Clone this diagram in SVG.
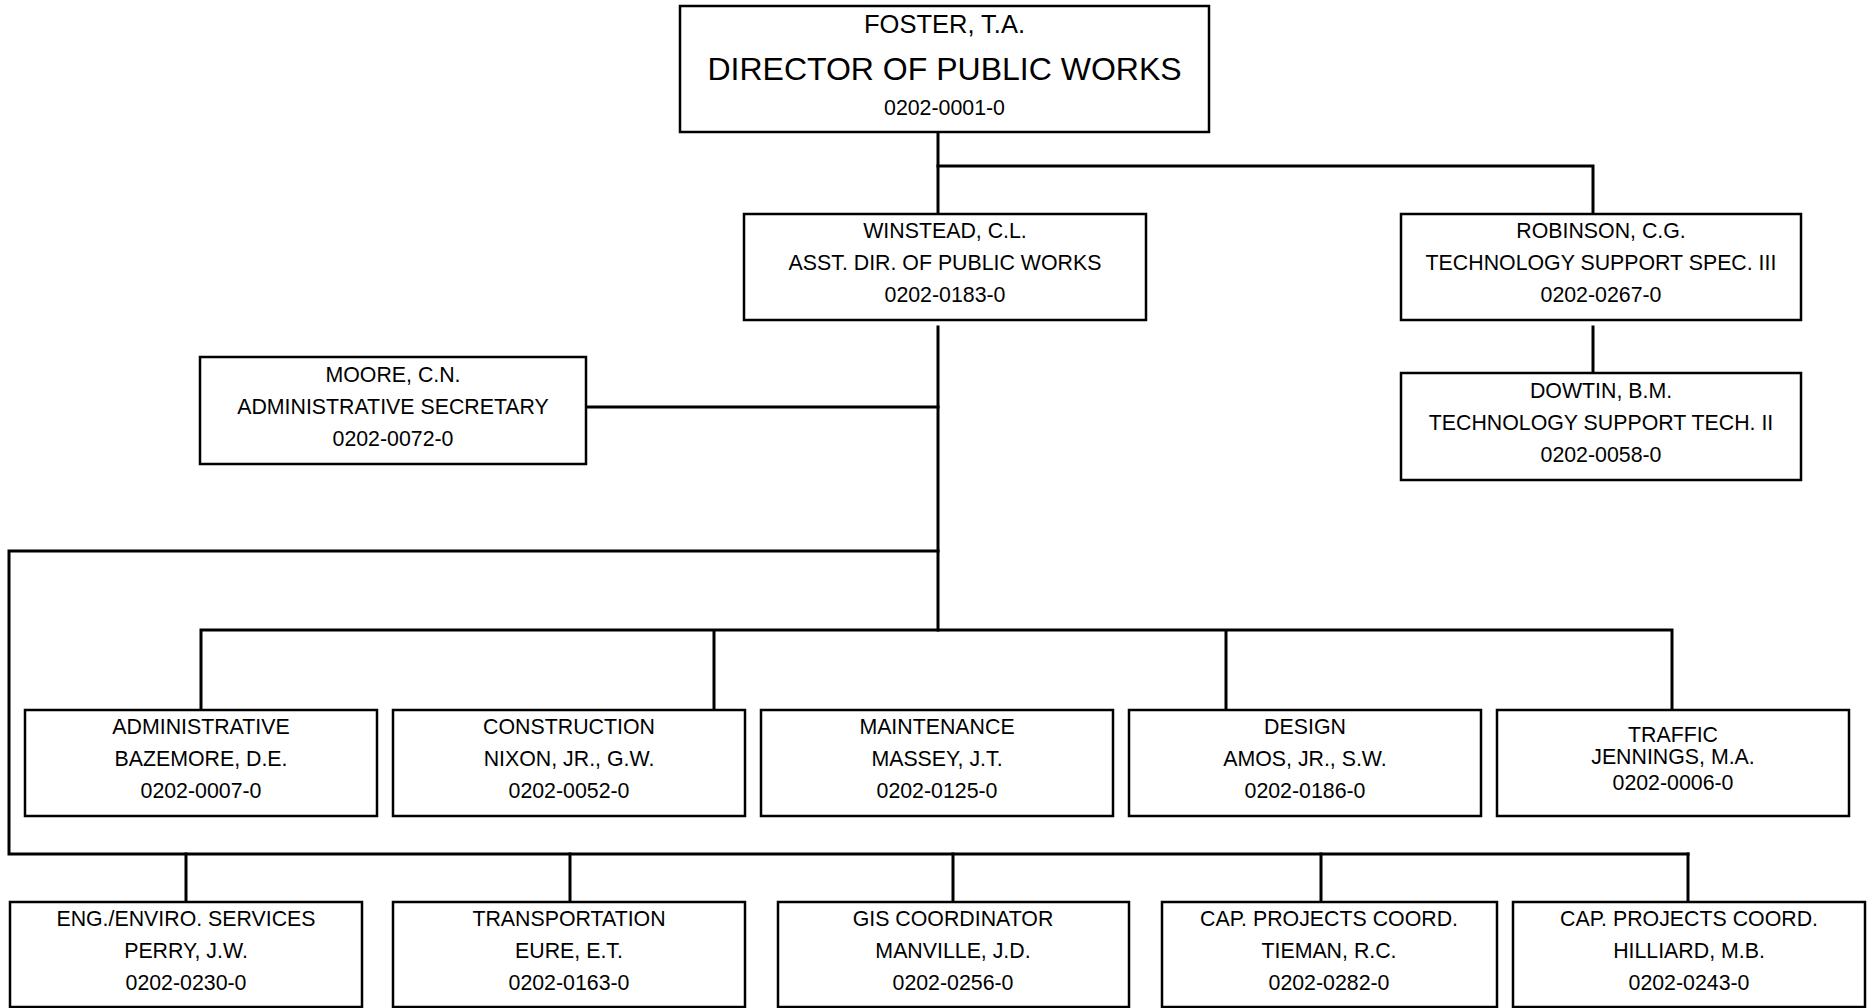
<svg xmlns="http://www.w3.org/2000/svg" width="1867" height="1008" viewBox="0 0 1867 1008">
  <style>
    .box { fill: #ffffff; stroke: #000000; stroke-width: 2.5; }
    .t { font-family: "Liberation Sans", Arial, sans-serif; font-size: 21.33px; fill: #000000; text-anchor: middle; }
    .big { font-size: 32px; }
    .name { font-size: 25.5px; }
    .conn { fill: none; stroke: #000000; stroke-width: 3; stroke-linecap: square; }
  </style>
  <rect width="1867" height="1008" fill="#ffffff"/>

  <g id="connectors">
    <path class="conn" d="M938 132 V214"/>
    <path class="conn" d="M938 166 H1593 V214"/>
    <path class="conn" d="M1593 327 V373"/>
    <path class="conn" d="M938 327 V630"/>
    <path class="conn" d="M586 407 H938"/>
    <path class="conn" d="M938 551 H9 V854 H1688"/>
    <path class="conn" d="M186 854 V902 M570 854 V902 M953 854 V902 M1321 854 V902 M1688 854 V902"/>
    <path class="conn" d="M201 710 V630 H1672 V710 M714 630 V710 M1226 630 V710"/>
  </g>

  <g id="director">
    <rect class="box" x="680" y="6" width="529" height="126"/>
    <text class="t name" x="944.5" y="33">FOSTER, T.A.</text>
    <text class="t big" x="944.5" y="80">DIRECTOR OF PUBLIC WORKS</text>
    <text class="t" x="944.5" y="115">0202-0001-0</text>
  </g>

  <g id="asst-director">
    <rect class="box" x="744" y="214" width="402" height="106"/>
    <text class="t" x="945" y="238">WINSTEAD, C.L.</text>
    <text class="t" x="945" y="270">ASST. DIR. OF PUBLIC WORKS</text>
    <text class="t" x="945" y="302">0202-0183-0</text>
  </g>

  <g id="tech-spec">
    <rect class="box" x="1401" y="214" width="400" height="106"/>
    <text class="t" x="1601" y="238">ROBINSON, C.G.</text>
    <text class="t" x="1601" y="270">TECHNOLOGY SUPPORT SPEC. III</text>
    <text class="t" x="1601" y="302">0202-0267-0</text>
  </g>

  <g id="tech-tech">
    <rect class="box" x="1401" y="373" width="400" height="107"/>
    <text class="t" x="1601" y="398">DOWTIN, B.M.</text>
    <text class="t" x="1601" y="430">TECHNOLOGY SUPPORT TECH. II</text>
    <text class="t" x="1601" y="462">0202-0058-0</text>
  </g>

  <g id="secretary">
    <rect class="box" x="200" y="357" width="386" height="107"/>
    <text class="t" x="393" y="382">MOORE, C.N.</text>
    <text class="t" x="393" y="414">ADMINISTRATIVE SECRETARY</text>
    <text class="t" x="393" y="446">0202-0072-0</text>
  </g>

  <g id="administrative">
    <rect class="box" x="25" y="710" width="352" height="106"/>
    <text class="t" x="201" y="734">ADMINISTRATIVE</text>
    <text class="t" x="201" y="766">BAZEMORE, D.E.</text>
    <text class="t" x="201" y="798">0202-0007-0</text>
  </g>

  <g id="construction">
    <rect class="box" x="393" y="710" width="352" height="106"/>
    <text class="t" x="569" y="734">CONSTRUCTION</text>
    <text class="t" x="569" y="766">NIXON, JR., G.W.</text>
    <text class="t" x="569" y="798">0202-0052-0</text>
  </g>

  <g id="maintenance">
    <rect class="box" x="761" y="710" width="352" height="106"/>
    <text class="t" x="937" y="734">MAINTENANCE</text>
    <text class="t" x="937" y="766">MASSEY, J.T.</text>
    <text class="t" x="937" y="798">0202-0125-0</text>
  </g>

  <g id="design">
    <rect class="box" x="1129" y="710" width="352" height="106"/>
    <text class="t" x="1305" y="734">DESIGN</text>
    <text class="t" x="1305" y="766">AMOS, JR., S.W.</text>
    <text class="t" x="1305" y="798">0202-0186-0</text>
  </g>

  <g id="traffic">
    <rect class="box" x="1497" y="710" width="352" height="106"/>
    <text class="t" x="1673" y="742">TRAFFIC</text>
    <text class="t" x="1673" y="764">JENNINGS, M.A.</text>
    <text class="t" x="1673" y="790">0202-0006-0</text>
  </g>

  <g id="eng-enviro">
    <rect class="box" x="10" y="902" width="352" height="105"/>
    <text class="t" x="186" y="926">ENG./ENVIRO. SERVICES</text>
    <text class="t" x="186" y="958">PERRY, J.W.</text>
    <text class="t" x="186" y="990">0202-0230-0</text>
  </g>

  <g id="transportation">
    <rect class="box" x="393" y="902" width="352" height="105"/>
    <text class="t" x="569" y="926">TRANSPORTATION</text>
    <text class="t" x="569" y="958">EURE, E.T.</text>
    <text class="t" x="569" y="990">0202-0163-0</text>
  </g>

  <g id="gis">
    <rect class="box" x="778" y="902" width="351" height="105"/>
    <text class="t" x="953" y="926">GIS COORDINATOR</text>
    <text class="t" x="953" y="958">MANVILLE, J.D.</text>
    <text class="t" x="953" y="990">0202-0256-0</text>
  </g>

  <g id="cap-projects-1">
    <rect class="box" x="1162" y="902" width="335" height="105"/>
    <text class="t" x="1329" y="926">CAP. PROJECTS COORD.</text>
    <text class="t" x="1329" y="958">TIEMAN, R.C.</text>
    <text class="t" x="1329" y="990">0202-0282-0</text>
  </g>

  <g id="cap-projects-2">
    <rect class="box" x="1513" y="902" width="352" height="105"/>
    <text class="t" x="1689" y="926">CAP. PROJECTS COORD.</text>
    <text class="t" x="1689" y="958">HILLIARD, M.B.</text>
    <text class="t" x="1689" y="990">0202-0243-0</text>
  </g>
</svg>
